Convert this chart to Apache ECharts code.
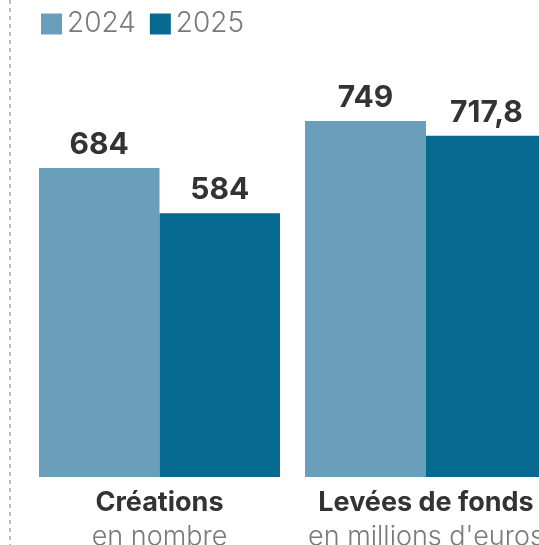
<!DOCTYPE html>
<html>
<head>
<meta charset="utf-8">
<script src="https://cdn.jsdelivr.net/npm/echarts@6/dist/echarts.min.js"></script>
<style>
  html, body { margin: 0; padding: 0; background: #fff; }
  #chart { width: 539px; height: 545px; }
</style>
</head>
<body>
<div id="chart"></div>
<script>
// Start-ups: créations et levées de fonds, 2024 vs 2025
const categories = ['Créations', 'Levées de fonds'];
const units = ['en nombre', "en millions d'euros"];
const years = ['2024', '2025'];
const values2024 = [684, 749];
const values2025 = [584, 717.8];

const colors = { '2024': '#6a9fbc', '2025': '#066a90' };
const font = 'Inter, "Noto Sans", sans-serif';

// each indicator has its own panel and its own scale
const panels = [
  { left: 39, width: 241, top: 168 },
  { left: 305, width: 242, top: 121 }
];

const frFormat = v => String(v).replace('.', ',');

const grids = panels.map(p => ({
  left: p.left, width: p.width, top: p.top, bottom: 68,
  containLabel: false,
  outerBoundsMode: 'none'
}));

const xAxes = categories.map((c, i) => ({
  type: 'category',
  gridIndex: i,
  data: [c],
  axisLine: { show: false },
  axisTick: { show: false },
  axisLabel: {
    interval: 0,
    margin: 9,
    hideOverlap: false,
    formatter: () => '{t|' + c + '}\n{u|' + units[i] + '}',
    rich: {
      t: { fontFamily: font, fontSize: 27, fontWeight: 700, color: '#333', lineHeight: 34 },
      u: { fontFamily: font, fontSize: 27, fontWeight: 300, color: '#7a7a7a', lineHeight: 34 }
    }
  }
}));

const yAxes = categories.map((c, i) => ({
  type: 'value',
  gridIndex: i,
  min: 0,
  max: 'dataMax',
  show: false,
  splitLine: { show: false }
}));

const series = [];
categories.forEach((c, i) => {
  [[years[0], values2024], [years[1], values2025]].forEach(([year, vals]) => {
    series.push({
      name: year,
      type: 'bar',
      xAxisIndex: i,
      yAxisIndex: i,
      data: [vals[i]],
      barGap: '0%',
      barCategoryGap: '0%',
      itemStyle: { color: colors[year] },
      label: {
        show: true,
        position: 'top',
        distance: 8,
        formatter: p => frFormat(p.value),
        fontFamily: font,
        fontSize: 30,
        fontWeight: 700,
        color: '#333'
      }
    });
  });
});

const chart = echarts.init(document.getElementById('chart'), null, { renderer: 'canvas' });
chart.setOption({
  animation: false,
  backgroundColor: '#fff',
  legend: {
    data: years,
    left: 36,
    top: 5,
    icon: 'rect',
    itemWidth: 21,
    itemHeight: 21,
    itemGap: 14,
    textStyle: { fontFamily: font, fontSize: 28, fontWeight: 300, color: '#7a7a7a' }
  },
  grid: grids,
  xAxis: xAxes,
  yAxis: yAxes,
  series: series,
  graphic: [{
    type: 'line',
    shape: { x1: 10, y1: 0, x2: 10, y2: 545 },
    style: { stroke: '#a8a8a8', lineWidth: 1.5, lineDash: [4, 4] }
  }]
});
</script>
</body>
</html>
